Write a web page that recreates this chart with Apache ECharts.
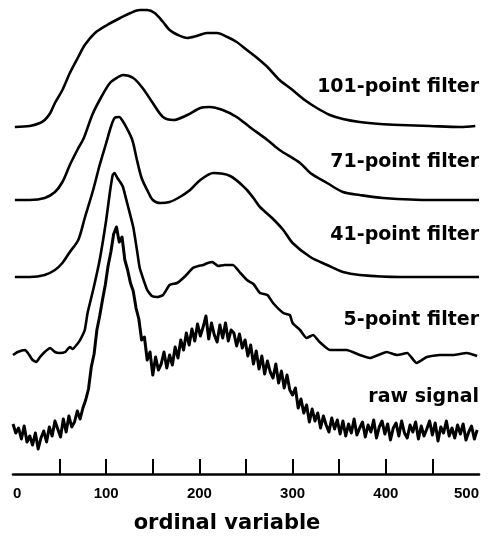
<!DOCTYPE html>
<html>
<head>
<meta charset="utf-8">
<script src="https://cdn.jsdelivr.net/npm/echarts@6/dist/echarts.min.js"></script>
<style>
html,body{margin:0;padding:0;background:#fff;}
#chart{width:489px;height:539px;}
</style>
</head>
<body>
<div id="chart"></div>
<script>
// Trace names (top to bottom)
var traceNames = ['101-point filter', '71-point filter', '41-point filter', '5-point filter', 'raw signal'];

// Each trace: [ordinal variable, signal height] pairs
var filter101 = [[2,0],[18,1],[29,4],[34,7],[40,14],[45,24],[53,37],[61,54],[70,70],[77,82],[88,94],[101,102],[115,109],[126,114],[136,117],[144,117],[152,114],[161,105],[168,97],[177,92],[187,89],[197,91],[208,94],[219,94],[230,90],[240,85],[251,77],[262,69],[273,60],[286,47],[300,37],[313,27],[326,19],[340,12],[354,8],[372,5],[394,3],[415,2],[447,1],[480,0],[496,1]];

var filter71 = [[2,0],[18,0],[34,2],[45,8],[53,18],[61,35],[69,50],[76,62],[85,85],[93,100],[104,117],[113,123],[118,125],[129,122],[139,112],[150,97],[161,83],[172,80],[187,85],[201,92],[211,93],[225,90],[240,83],[254,73],[273,60],[286,50],[308,37],[319,27],[337,17],[354,8],[372,5],[397,2],[451,0],[500,0]];

var filter41 = [[2,0],[18,0],[34,2],[45,7],[53,14],[61,25],[70,37],[77,59],[86,87],[93,112],[100,134],[105,150],[109,159],[114,160],[117,157],[122,149],[128,137],[133,117],[138,99],[145,85],[150,77],[158,74],[168,75],[179,80],[190,87],[201,97],[215,104],[233,101],[249,89],[258,79],[265,70],[278,59],[290,47],[300,34],[319,20],[337,12],[354,5],[372,2],[415,0],[500,0]];

var filter5 = [[0,-3],[5,0],[13,2],[16,-1],[21,-8],[25,-10],[29,-5],[34,0],[40,4],[45,0],[50,-1],[56,0],[61,5],[64,3],[69,8],[72,12],[77,22],[80,39],[86,62],[93,92],[100,132],[104,160],[107,177],[109,179],[112,174],[115,170],[118,165],[123,147],[129,125],[133,102],[136,84],[144,62],[149,56],[155,55],[161,57],[168,67],[176,69],[185,76],[193,84],[199,86],[204,87],[209,89],[214,90],[220,86],[227,87],[236,87],[244,79],[251,72],[258,68],[265,59],[273,57],[279,49],[290,39],[297,37],[300,29],[308,22],[315,14],[322,17],[329,10],[340,2],[358,2],[372,-3],[383,-6],[401,0],[412,-3],[423,-1],[433,-11],[444,-5],[458,-3],[472,-3],[487,-1],[498,-4]];

// Raw signal, sampled every 3 units of the ordinal variable starting at 0
var rawStep = 3;
var rawSignal = [6,-3,2,-9,4,-12,-6,-15,-3,-19,
  -8,-1,-12,3,-6,9,1,-7,11,-2,
  14,3,8,19,11,22,30,41,63,76,
  100,114,130,145,164,178,196,203,188,193,
  170,160,147,139,122,111,90,93,70,78,
  55,73,60,66,78,62,75,65,83,72,
  90,80,97,85,101,89,106,94,103,114,
  91,107,95,88,105,92,107,89,100,97,
  84,96,82,90,74,85,66,79,61,74,
  56,69,58,52,66,47,59,42,55,40,
  35,42,22,31,17,25,8,21,9,17,
  2,14,5,-2,12,1,10,-4,9,-6,
  6,-3,11,-5,2,8,-7,5,-2,10,
  -8,3,9,-4,6,-10,2,7,-6,9,
  -3,-8,5,-2,8,-9,4,-6,1,9,
  -5,7,-11,3,-3,9,-6,2,-8,5,
  -4,6,-10,-2,4,-9,0];

// Vertical offsets of each trace's baseline (same order as traceNames)
var traceOffsets = [347, 274, 197, 122, 44];

// Axis ticks and labels
var tickValues = [50,100,150,200,250,300,350,400,450];
var labelValues = [0,100,200,300,400,500];
var xTitle = 'ordinal variable';

// Label positions (right edge x, vertical middle y) for trace names
var labelY = [87, 162, 235, 320, 397];

var rawPairs = rawSignal.map(function(h, i){ return [i * rawStep, h]; });
var traces = [filter101, filter71, filter41, filter5, rawPairs];

var chart = echarts.init(document.getElementById('chart'), null, {renderer:'canvas'});

var series = traces.map(function(tr, k){
  return {
    type: 'line',
    name: traceNames[k],
    data: tr.map(function(p){ return [p[0], p[1] + traceOffsets[k]]; }),
    showSymbol: false,
    symbol: 'none',
    smooth: k < 3 ? 0.3 : (k === 3 ? 0.15 : false),
    lineStyle: {color: '#000', width: k === 4 ? 3 : 2.6, join: 'round'},
    clip: false,
    silent: true
  };
});

var graphics = traceNames.map(function(n, k){
  return {
    type: 'text',
    x: 479, y: labelY[k],
    style: {
      text: n,
      textAlign: 'right',
      textVerticalAlign: 'middle',
      font: 'bold 19px "DejaVu Sans"',
      fill: '#000'
    }
  };
});
graphics.push({
  type: 'text',
  x: 227, y: 524,
  style: {
    text: xTitle,
    textAlign: 'center',
    textVerticalAlign: 'middle',
    font: 'bold 21px "DejaVu Sans"',
    fill: '#000'
  }
});

chart.setOption({
  animation: false,
  backgroundColor: '#fff',
  grid: {left: 13, right: 10, top: 0, bottom: 65},
  xAxis: {
    type: 'value',
    min: 0, max: 500, interval: 50,
    axisLine: {show: true, lineStyle: {color: '#000', width: 2.6}},
    axisTick: {show: true, inside: true, length: 15, customValues: tickValues, lineStyle: {color: '#000', width: 2}},
    axisLabel: {
      customValues: labelValues,
      margin: 12,
      color: '#000',
      fontFamily: '"Liberation Sans", Arial, sans-serif',
      fontWeight: 'bold',
      fontSize: 15,
      showMinLabel: true, showMaxLabel: true,
      alignMinLabel: 'left', alignMaxLabel: 'right'
    },
    splitLine: {show: false}
  },
  yAxis: {
    type: 'value', min: 0, max: 474,
    show: false, splitLine: {show: false}
  },
  series: series,
  graphic: graphics
});
</script>
</body>
</html>
